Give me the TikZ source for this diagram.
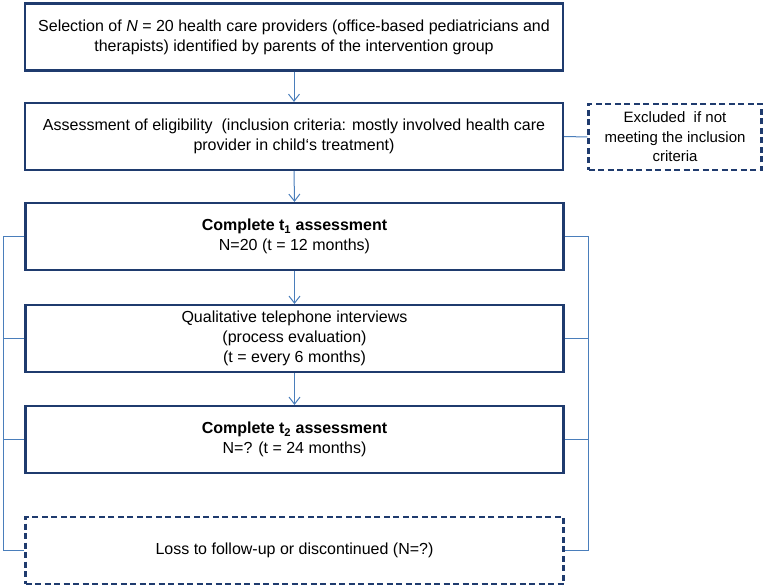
\documentclass[tikz,border=0pt]{standalone}
\usepackage{fontspec}
\setmainfont{Liberation Sans}
\usetikzlibrary{arrows.meta}
\definecolor{boxc}{HTML}{1F3B6E}
\definecolor{linec}{HTML}{4A7EBB}
\tikzset{
  flowbox/.style={draw=boxc, line width=2.2pt, minimum width=538pt, minimum height=67pt, align=center, font=\fontsize{16}{20}\selectfont, inner sep=0pt},
  dashbox/.style={flowbox, dash pattern=on 6pt off 3.5pt},
  conn/.style={draw=linec, line width=1pt},
  arr/.style={conn, -{Straight Barb[length=7pt,width=11pt,line width=1pt]}},
}
\begin{document}
\begin{tikzpicture}[x=1pt,y=-1pt]
\useasboundingbox (0,0) rectangle (765,588);
\node[flowbox] (b1) at (294,37) {Selection of \textit{N} = 20 health care providers (office-based pediatricians and\\therapists) identified by parents of the intervention group};
\node[flowbox] (b2) at (294,136.5) {Assessment of eligibility\ \ (inclusion criteria: mostly involved health care\\provider in child‘s treatment)};
\node[dashbox, minimum width=173pt, minimum height=66pt, font=\fontsize{15}{19.5}\selectfont] (ex) at (675,137) {Excluded\ \ if not\\meeting the inclusion\\criteria};
\node[flowbox] (b3) at (294.5,236.5) {\textbf{Complete t\textsubscript{1} assessment}\\N=20 (t = 12 months)};
\node[flowbox] (b4) at (294.5,338.5) {Qualitative telephone interviews\\(process evaluation)\\(t = every 6 months)};
\node[flowbox] (b5) at (294.5,439.5) {\textbf{Complete t\textsubscript{2} assessment}\\N=? (t = 24 months)};
\node[dashbox] (lo) at (294.5,550.5) {Loss to follow-up or discontinued (N=?)};
\coordinate (L) at (3,0);
\coordinate (R) at (588,0);
\draw[arr] (b1.south) -- (b2.north);
\draw[arr] (b2.south) -- (b3.north);
\draw[arr] (b3.south) -- (b4.north);
\draw[arr] (b4.south) -- (b5.north);
\draw[conn] (b2.east) -- (ex.west);
\draw[conn] (b3.west) -- (b3.west -| L) -- (lo.west -| L) -- (lo.west);
\draw[conn] (b4.west) -- (b4.west -| L);
\draw[conn] (b5.west) -- (b5.west -| L);
\draw[conn] (b3.east) -- (b3.east -| R) -- (lo.east -| R) -- (lo.east);
\draw[conn] (b4.east) -- (b4.east -| R);
\draw[conn] (b5.east) -- (b5.east -| R);
\end{tikzpicture}
\end{document}
